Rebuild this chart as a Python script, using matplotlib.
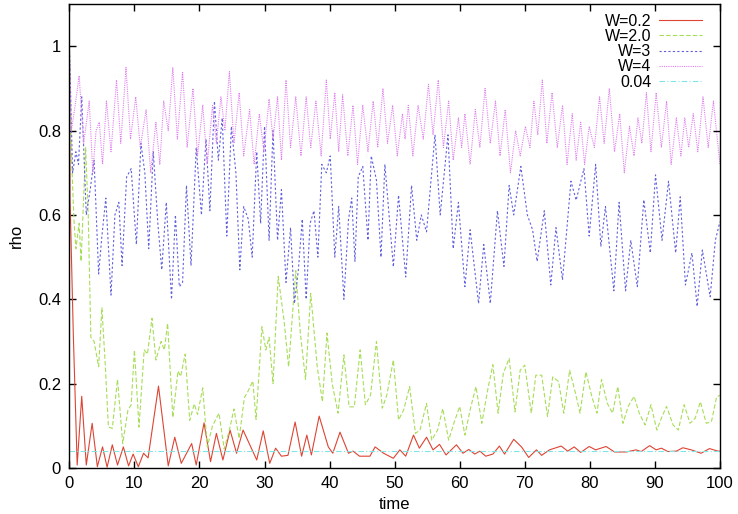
import matplotlib.pyplot as plt
import numpy as np

plt.rcParams['font.family'] = ['Liberation Sans', 'DejaVu Sans']

# W=0.2 (red)
t_w02 = [0, 0.1, 0.6, 1.2, 1.9, 2.6, 3.5, 4.3, 5.1, 5.8, 6.6, 7.4, 8.3, 9.1, 9.8, 10.6,
         11.4, 12.1, 13.7, 15.2, 16.2, 17.2, 18.8, 19.5, 20.7, 21.7, 22.6, 23.6, 24.7,
         25.7, 26.7, 28.8, 29.8, 30.8, 31.7, 32.6, 33.6, 34.7, 35.7, 36.5, 37.2, 38.4,
         39.8, 40.5, 41.6, 42.9, 43.6, 44.6, 46.2, 47.0, 48.3, 49.8, 50.8, 51.7, 52.9,
         53.8, 54.9, 55.9, 56.9, 57.9, 59.5, 60.5, 61.4, 62.3, 63.1, 64.0, 65.1, 66.1,
         66.9, 68.3, 69.5, 70.6, 71.8, 72.6, 73.8, 75.6, 76.6, 77.6, 78.6, 79.9, 80.9,
         82.5, 83.8, 85.6, 87.1, 87.9, 89.2, 90.2, 91.0, 92.0, 93.3, 94.3, 95.6, 97.1,
         98.4, 99.7, 100]
w02 = [1.0, 0.64, 0.32, 0.007, 0.17, 0.007, 0.106, 0.003, 0.05, 0.002, 0.055, 0.007, 0.05,
       0.005, 0.033, 0.003, 0.035, 0.024, 0.194, 0.005, 0.073, 0.011, 0.058, 0.007, 0.107,
       0.015, 0.082, 0.019, 0.09, 0.035, 0.09, 0.019, 0.088, 0.011, 0.047, 0.028, 0.03,
       0.109, 0.028, 0.078, 0.031, 0.123, 0.05, 0.035, 0.085, 0.035, 0.04, 0.028, 0.028,
       0.05, 0.035, 0.023, 0.043, 0.028, 0.078, 0.047, 0.073, 0.043, 0.056, 0.031, 0.055,
       0.035, 0.044, 0.033, 0.04, 0.028, 0.033, 0.052, 0.033, 0.068, 0.05, 0.025, 0.043,
       0.03, 0.043, 0.052, 0.04, 0.05, 0.037, 0.051, 0.043, 0.051, 0.038, 0.038, 0.043,
       0.039, 0.053, 0.043, 0.047, 0.039, 0.04, 0.048, 0.043, 0.035, 0.046, 0.04, 0.04]

# W=2.0 (green)
t_w2 = [0, 0.3, 0.7, 1.0, 1.5, 1.8, 2.5, 2.9, 3.3, 3.8, 4.5, 5.0, 5.5, 6.0, 6.6, 7.4, 8.2,
        9.0, 9.5, 10.0, 10.7, 11.5, 12.0, 12.7, 13.3, 14.1, 14.6, 15.1, 15.9, 16.7, 17.1,
        17.8, 18.5, 19.2, 19.7, 20.5, 21.2, 22.0, 23.0, 23.8, 24.6, 25.3, 26.1, 26.9,
        27.4, 28.2, 28.7, 29.6, 30.2, 30.7, 31.3, 32.1, 33.0, 33.7, 34.8, 35.5, 36.3,
        37.1, 38.1, 38.9, 39.6, 40.4, 41.3, 42.2, 43.0, 43.8, 44.7, 45.5, 46.3, 47.2,
        48.1, 48.8, 49.8, 50.6, 51.4, 52.3, 53.2, 53.9, 54.9, 55.7, 56.6, 57.4, 58.3,
        59.1, 60.0, 60.8, 61.6, 62.5, 63.4, 64.3, 65.1, 65.9, 66.7, 67.6, 68.5, 69.3,
        70.0, 71.0, 71.7, 72.6, 73.5, 74.3, 75.2, 76.0, 76.9, 77.8, 78.5, 79.4, 80.3,
        81.1, 81.8, 82.7, 83.5, 84.3, 85.1, 85.9, 86.8, 87.6, 88.5, 89.4, 90.3, 91.1,
        91.8, 92.8, 93.6, 94.5, 95.4, 96.2, 97.0, 97.9, 98.7, 99.5, 100]
w2 = [1.0, 0.75, 0.59, 0.52, 0.58, 0.49, 0.76, 0.60, 0.31, 0.30, 0.24, 0.38, 0.25, 0.097,
      0.094, 0.21, 0.058, 0.137, 0.15, 0.28, 0.097, 0.28, 0.27, 0.355, 0.256, 0.30, 0.28,
      0.343, 0.12, 0.23, 0.217, 0.27, 0.113, 0.152, 0.127, 0.19, 0.05, 0.10, 0.13, 0.045,
      0.09, 0.14, 0.07, 0.167, 0.18, 0.206, 0.115, 0.335, 0.28, 0.31, 0.20, 0.454, 0.35,
      0.24, 0.468, 0.32, 0.21, 0.414, 0.24, 0.157, 0.32, 0.20, 0.13, 0.268, 0.145, 0.145,
      0.28, 0.15, 0.173, 0.30, 0.142, 0.173, 0.256, 0.114, 0.138, 0.193, 0.082, 0.09,
      0.153, 0.066, 0.09, 0.141, 0.066, 0.106, 0.146, 0.078, 0.138, 0.193, 0.106, 0.185,
      0.245, 0.13, 0.224, 0.26, 0.133, 0.232, 0.244, 0.13, 0.22, 0.22, 0.122, 0.216,
      0.205, 0.13, 0.232, 0.177, 0.13, 0.228, 0.17, 0.13, 0.21, 0.153, 0.13, 0.193, 0.106,
      0.146, 0.17, 0.13, 0.102, 0.15, 0.09, 0.122, 0.146, 0.102, 0.09, 0.15, 0.106, 0.118,
      0.157, 0.106, 0.11, 0.169, 0.172]

# W=3 (blue)
t_w3 = [0, 0.5, 1.0, 1.4, 1.9, 2.6, 3.2, 3.8, 4.5, 5.0, 5.6, 6.4, 7.0, 7.6, 8.1, 8.8, 9.5,
        10.3, 11.0, 11.6, 12.2, 12.9, 13.6, 14.2, 14.9, 15.7, 16.3, 16.9, 17.4, 18.0, 18.7,
        19.5, 20.3, 21.0, 21.6, 22.3, 22.9, 23.5, 24.2, 24.9, 25.6, 26.2, 26.8, 27.5, 28.1,
        28.8, 29.4, 30.0, 30.7, 31.3, 32.0, 32.6, 33.3, 34.0, 34.6, 35.2, 35.8, 36.4, 37.0,
        37.6, 38.2, 38.8, 39.5, 40.1, 40.8, 41.4, 42.2, 42.9, 43.4, 43.9, 44.4, 45.1, 45.9,
        46.4, 47.2, 47.9, 48.5, 49.8, 50.6, 51.7, 52.6, 53.4, 54.1, 54.9, 56.2, 57.0, 58.2,
        59.0, 59.8, 60.8, 61.6, 62.9, 63.7, 64.7, 65.8, 66.8, 67.6, 68.3, 69.4, 70.4, 71.2,
        71.9, 73.0, 74.0, 74.8, 75.8, 77.1, 77.9, 79.1, 79.9, 80.9, 81.7, 82.4, 83.7, 84.5,
        85.5, 86.3, 87.3, 88.3, 89.3, 90.1, 91.1, 92.1, 93.2, 93.9, 94.7, 95.7, 96.5, 97.3,
        98.5, 99.3, 100]
w3 = [1.0, 0.70, 0.75, 0.72, 0.88, 0.60, 0.66, 0.73, 0.46, 0.55, 0.64, 0.41, 0.60, 0.63,
      0.48, 0.69, 0.71, 0.53, 0.77, 0.70, 0.52, 0.75, 0.58, 0.47, 0.63, 0.40, 0.60, 0.43,
      0.44, 0.67, 0.48, 0.76, 0.60, 0.78, 0.61, 0.87, 0.73, 0.83, 0.55, 0.81, 0.70, 0.47,
      0.62, 0.59, 0.50, 0.75, 0.58, 0.81, 0.54, 0.80, 0.54, 0.66, 0.44, 0.57, 0.39, 0.47,
      0.59, 0.40, 0.58, 0.61, 0.50, 0.72, 0.70, 0.74, 0.50, 0.62, 0.40, 0.588, 0.64, 0.49,
      0.69, 0.715, 0.54, 0.74, 0.683, 0.50, 0.72, 0.477, 0.647, 0.453, 0.67, 0.54, 0.60,
      0.56, 0.79, 0.60, 0.79, 0.52, 0.63, 0.43, 0.565, 0.39, 0.53, 0.39, 0.61, 0.478,
      0.67, 0.60, 0.715, 0.60, 0.565, 0.49, 0.61, 0.434, 0.57, 0.446, 0.68, 0.635, 0.71,
      0.55, 0.72, 0.525, 0.62, 0.42, 0.63, 0.42, 0.54, 0.43, 0.636, 0.51, 0.695, 0.54,
      0.68, 0.51, 0.643, 0.434, 0.51, 0.383, 0.517, 0.406, 0.54, 0.584]

# W=4 (magenta)
t_w4 = [0, 0.3, 0.8, 1.5, 2.2, 3.05, 3.6, 4.1, 4.6, 5.1, 5.7, 6.4, 7.25, 7.9, 8.7, 9.4,
        10.2, 10.9, 11.8, 12.5, 13.3, 13.9, 14.5, 15.2, 15.9, 16.6, 17.4, 18.1, 19.0, 19.7,
        20.5, 21.2, 22.0, 22.6, 23.3, 23.9, 24.6, 25.3, 26.1, 26.8, 27.7, 28.4, 29.2, 29.9,
        30.7, 31.3, 32.0, 32.6, 33.3, 34.0, 34.8, 35.6, 36.4, 37.1, 37.9, 38.7, 39.5, 40.1,
        40.8, 41.4, 42.0, 42.8, 43.6, 44.3, 45.1, 45.9, 46.7, 47.4, 48.2, 48.9, 49.7, 50.4,
        51.2, 51.6, 52.1, 52.8, 53.6, 54.4, 55.2, 55.9, 56.7, 57.5, 58.3, 59.0, 59.8, 60.3,
        60.8, 61.6, 62.4, 63.1, 63.9, 64.7, 65.5, 66.2, 67.0, 67.8, 68.6, 69.3, 70.1, 70.8,
        71.4, 72.0, 72.7, 73.4, 74.2, 75.0, 75.8, 76.5, 77.3, 77.9, 78.6, 79.2, 79.9, 80.7,
        81.5, 82.2, 83.0, 83.8, 84.6, 85.3, 86.1, 86.8, 87.4, 88.0, 88.7, 89.4, 90.2, 91.0,
        91.8, 92.5, 93.3, 94.0, 94.6, 95.2, 95.9, 96.6, 97.4, 98.2, 99.0, 99.6, 100]
w4 = [1.0, 0.80, 0.85, 0.93, 0.77, 0.87, 0.70, 0.80, 0.82, 0.72, 0.87, 0.75, 0.92, 0.77,
      0.95, 0.78, 0.88, 0.76, 0.85, 0.70, 0.82, 0.72, 0.87, 0.80, 0.95, 0.78, 0.94, 0.76,
      0.90, 0.74, 0.86, 0.72, 0.86, 0.77, 0.88, 0.80, 0.94, 0.77, 0.89, 0.74, 0.85, 0.72,
      0.84, 0.75, 0.875, 0.78, 0.88, 0.73, 0.92, 0.76, 0.88, 0.74, 0.88, 0.76, 0.87, 0.74,
      0.92, 0.78, 0.89, 0.75, 0.885, 0.74, 0.86, 0.72, 0.86, 0.75, 0.87, 0.76, 0.90, 0.77,
      0.86, 0.74, 0.84, 0.78, 0.86, 0.74, 0.86, 0.78, 0.91, 0.79, 0.92, 0.76, 0.87, 0.73,
      0.83, 0.76, 0.84, 0.72, 0.85, 0.76, 0.90, 0.77, 0.87, 0.74, 0.85, 0.70, 0.80, 0.74,
      0.81, 0.76, 0.87, 0.79, 0.92, 0.77, 0.89, 0.76, 0.86, 0.72, 0.84, 0.73, 0.82, 0.72,
      0.81, 0.76, 0.88, 0.77, 0.90, 0.75, 0.84, 0.70, 0.81, 0.74, 0.83, 0.77, 0.89, 0.75,
      0.89, 0.76, 0.87, 0.72, 0.83, 0.74, 0.83, 0.76, 0.84, 0.75, 0.88, 0.76, 0.87, 0.78,
      0.72]

# constant reference level
t_ref = [0, 100]
ref = [0.04, 0.04]

fig = plt.figure(figsize=(7.38, 5.14), dpi=100)
ax = fig.add_axes([0.094, 0.0895, 0.8815, 0.9025])

ax.plot(t_w02, w02, color='#dd4433', lw=0.8, label='W=0.2')
ax.plot(t_w2, w2, color='#a8dd58', lw=0.8, dashes=(4, 2), label='W=2.0')
ax.plot(t_w3, w3, color='#6060dd', lw=0.8, dashes=(2, 2), label='W=3')
ax.plot(t_w4, w4, color='#e080ee', lw=0.8, dashes=(1, 1), label='W=4')
ax.plot(t_ref, ref, color='#80e4e4', lw=0.8, dashes=(5, 2, 1, 2), label='0.04')

ax.set_xlim(0, 100)
ax.set_ylim(0, 1.1)
ax.set_xticks(np.arange(0, 101, 10))
ax.set_yticks([0, 0.2, 0.4, 0.6, 0.8, 1.0])
ax.set_yticklabels(['0', '0.2', '0.4', '0.6', '0.8', '1'])
ax.tick_params(direction='in', top=True, right=True, length=5, width=1, labelsize=12, pad=6)
for s in ax.spines.values():
    s.set_linewidth(1)

ax.set_xlabel('time', fontsize=12, labelpad=4)
ax.set_ylabel('rho', fontsize=12, labelpad=10)

ax.legend(loc='upper right', bbox_to_anchor=(0.983, 0.9935), frameon=False,
          markerfirst=False, fontsize=11.5, handlelength=2.7, labelspacing=0.02,
          borderaxespad=0, handletextpad=0.5)

fig.savefig('out.png', dpi=100)
